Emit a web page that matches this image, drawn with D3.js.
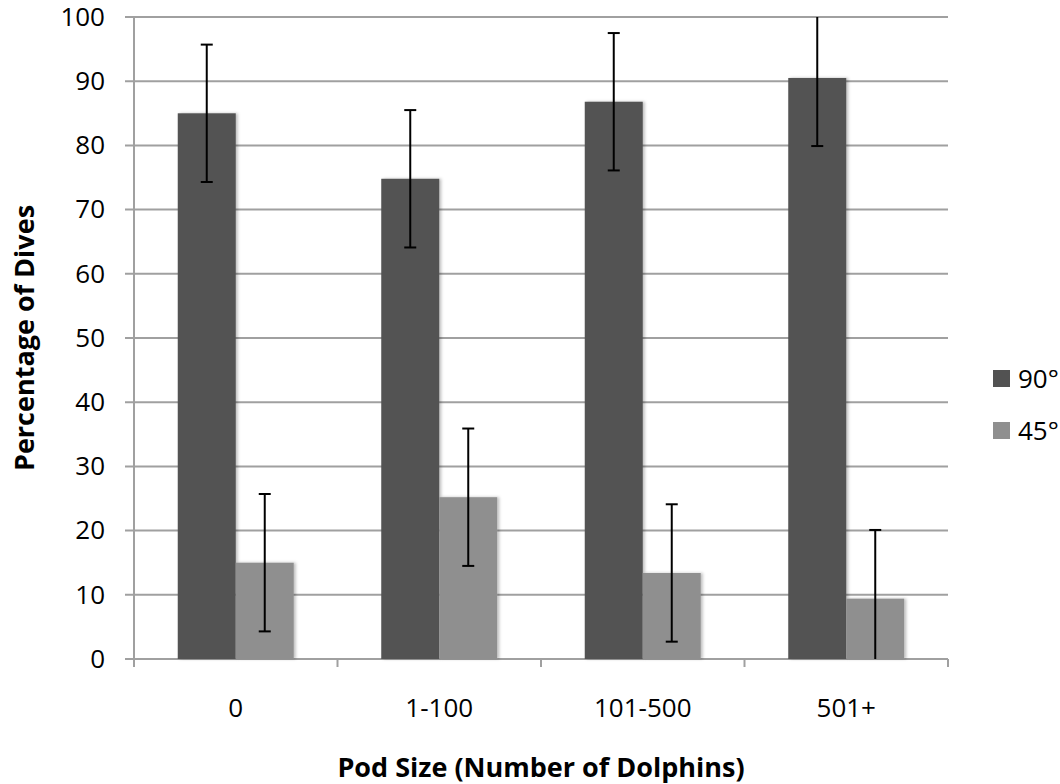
<!DOCTYPE html>
<html>
<head>
<meta charset="utf-8">
<script src="https://cdn.jsdelivr.net/npm/d3@7"></script>
<style>
  html, body { margin: 0; padding: 0; background: #fff; }
  svg { display: block; font-family: "Open Sans", sans-serif; }
</style>
</head>
<body>
<svg id="chart" width="1060" height="784"></svg>
<script>
const categories = ["0", "1-100", "101-500", "501+"];
const seriesNames = ["90°", "45°"];
const values90 = [85.0, 74.8, 86.8, 90.5];
const values45 = [15.0, 25.2, 13.4, 9.4];
const errors90 = [10.7, 10.7, 10.7, 10.6];
const errors45 = [10.7, 10.7, 10.7, 10.7];
const yTicks = [0, 10, 20, 30, 40, 50, 60, 70, 80, 90, 100];
const colors = ["#525252", "#8f8f8f"];

const svg = d3.select("#chart");
const margin = { left: 134, right: 112, top: 17, bottom: 125 };
const W = 1060, H = 784;
const plotW = W - margin.left - margin.right;
const plotH = H - margin.top - margin.bottom;

const defs = svg.append("defs");
const f = defs.append("filter").attr("id", "shadow").attr("x", "-10%").attr("y", "-5%").attr("width", "130%").attr("height", "110%");
f.append("feDropShadow").attr("dx", 2).attr("dy", 0).attr("stdDeviation", 1.5).attr("flood-color", "#000").attr("flood-opacity", 0.25);

const g = svg.append("g").attr("transform", `translate(${margin.left},${margin.top})`);

const y = d3.scaleLinear().domain([0, 100]).range([plotH, 0]);
const x0 = d3.scaleBand().domain(categories).range([0, plotW]).paddingInner(0.43).paddingOuter(0.215);
const x1 = d3.scaleBand().domain(seriesNames).range([0, x0.bandwidth()]).padding(0);

const ya = g.append("g").call(d3.axisLeft(y).tickValues(yTicks).tickSize(0).tickPadding(29).tickFormat(d3.format("d")));
ya.select(".domain").remove();
ya.selectAll("text").attr("font-size", 26).attr("fill", "#000").attr("font-family", "'Open Sans', sans-serif");

const grid = g.append("g");
grid.selectAll("line").data(yTicks).join("line")
  .attr("x1", -9).attr("x2", plotW)
  .attr("y1", d => y(d)).attr("y2", d => y(d))
  .attr("stroke", "#a0a0a0").attr("stroke-width", 2);

// y axis line
g.append("line").attr("x1", 0).attr("x2", 0).attr("y1", 0).attr("y2", plotH)
  .attr("stroke", "#a0a0a0").attr("stroke-width", 2);

// x ticks at category boundaries
const step = x0.step();
const bounds = d3.range(categories.length + 1).map(i => i * step);
g.append("g").selectAll("line").data(bounds).join("line")
  .attr("x1", d => d).attr("x2", d => d)
  .attr("y1", plotH).attr("y2", plotH + 8)
  .attr("stroke", "#a0a0a0").attr("stroke-width", 2);

// x labels
const xa = g.append("g").attr("transform", `translate(0,${plotH})`)
  .call(d3.axisBottom(x0).tickSize(0).tickPadding(40));
xa.select(".domain").remove();
xa.selectAll("text").attr("font-size", 26).attr("fill", "#000").attr("font-family", "'Open Sans', sans-serif");

// bars
const data = categories.map((c, i) => ({
  cat: c,
  items: [
    { s: seriesNames[0], v: values90[i], e: errors90[i], c: colors[0] },
    { s: seriesNames[1], v: values45[i], e: errors45[i], c: colors[1] }
  ]
}));

const groups = g.append("g").selectAll("g").data(data).join("g")
  .attr("transform", d => `translate(${x0(d.cat)},0)`);

groups.selectAll("rect").data(d => d.items).join("rect")
  .attr("x", d => x1(d.s))
  .attr("y", d => y(d.v))
  .attr("width", x1.bandwidth())
  .attr("height", d => plotH - y(d.v))
  .attr("fill", d => d.c)
  .attr("filter", "url(#shadow)");

// error bars
const clamp = v => Math.max(0, Math.min(100, v));
const eb = groups.selectAll("g.err").data(d => d.items).join("g").attr("class", "err");
eb.append("line")
  .attr("x1", d => x1(d.s) + x1.bandwidth() / 2).attr("x2", d => x1(d.s) + x1.bandwidth() / 2)
  .attr("y1", d => y(clamp(d.v + d.e))).attr("y2", d => y(clamp(d.v - d.e)))
  .attr("stroke", "#000").attr("stroke-width", 2);
eb.filter(d => d.v + d.e <= 100).append("line")
  .attr("x1", d => x1(d.s) + x1.bandwidth() / 2 - 6).attr("x2", d => x1(d.s) + x1.bandwidth() / 2 + 6)
  .attr("y1", d => y(d.v + d.e)).attr("y2", d => y(d.v + d.e))
  .attr("stroke", "#000").attr("stroke-width", 2);
eb.filter(d => d.v - d.e >= 0).append("line")
  .attr("x1", d => x1(d.s) + x1.bandwidth() / 2 - 6).attr("x2", d => x1(d.s) + x1.bandwidth() / 2 + 6)
  .attr("y1", d => y(d.v - d.e)).attr("y2", d => y(d.v - d.e))
  .attr("stroke", "#000").attr("stroke-width", 2);

// axis titles
svg.append("text")
  .attr("transform", `translate(34,${margin.top + plotH / 2}) rotate(-90)`)
  .attr("text-anchor", "middle")
  .attr("font-size", 27).attr("font-weight", "bold").attr("fill", "#000")
  .text("Percentage of Dives");

svg.append("text")
  .attr("x", margin.left + plotW / 2).attr("y", 777)
  .attr("text-anchor", "middle")
  .attr("font-size", 27).attr("font-weight", "bold").attr("fill", "#000")
  .text("Pod Size (Number of Dolphins)");

// legend
const legend = svg.append("g").attr("transform", "translate(993,370)");
const li = legend.selectAll("g").data(seriesNames).join("g")
  .attr("transform", (d, i) => `translate(0,${i * 52})`);
li.append("rect").attr("width", 17).attr("height", 17).attr("fill", (d, i) => colors[i]);
li.append("text").attr("x", 25).attr("y", 8.5).attr("dy", "0.35em")
  .attr("font-size", 26).attr("fill", "#000").text(d => d);
</script>
</body>
</html>
